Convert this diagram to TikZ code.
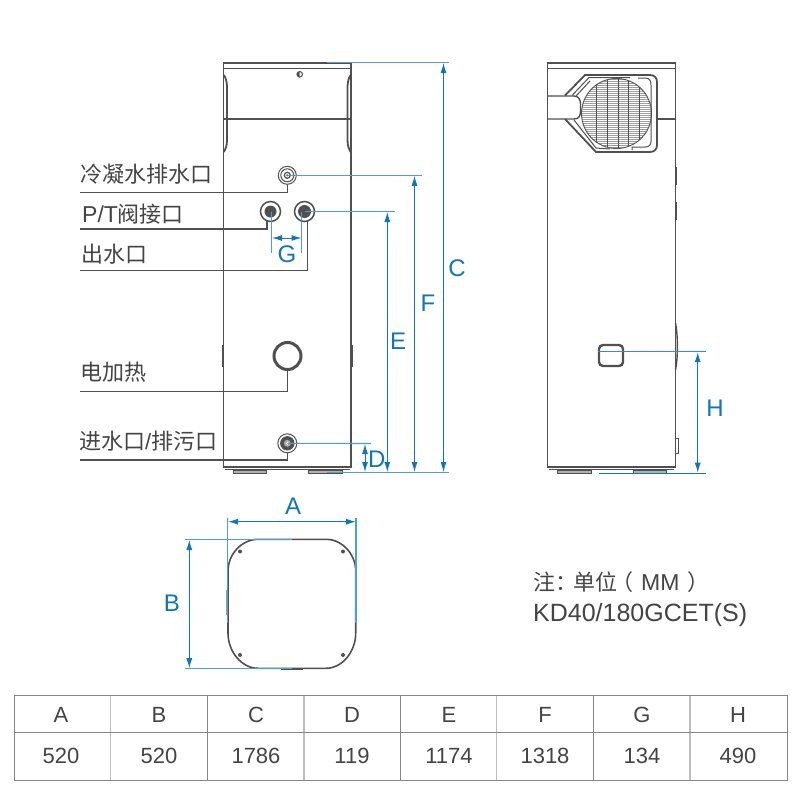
\documentclass[tikz,border=0pt]{standalone}
\usepackage{fontspec}
\setmainfont{Liberation Sans}
\newfontfamily\cjk{Noto Sans CJK SC}
\usetikzlibrary{arrows.meta}
\definecolor{bl}{HTML}{0F75BC}
\definecolor{lb}{HTML}{4C9FD8}
\definecolor{dk}{HTML}{505050}
\definecolor{txt}{HTML}{444444}
\definecolor{tb}{HTML}{858585}
\definecolor{tl}{HTML}{BDBDBD}
\tikzset{
 body/.style={draw=dk,line width=1.4pt},
 thinb/.style={draw=dk,line width=1pt},
 lead/.style={draw=dk,line width=1.2pt},
 ext/.style={draw=lb,line width=1.1pt},
 dim/.style={draw=bl,line width=1pt,{Latex[length=10pt,width=6pt]}-{Latex[length=10pt,width=6pt]}},
 lab/.style={text=txt,font=\cjk\fontsize{22}{22}\selectfont,anchor=west,inner sep=0pt},
 dl/.style={text=bl,font=\fontsize{24}{24}\selectfont,inner sep=0pt},
 cell/.style={text=txt,font=\fontsize{22}{22}\selectfont,inner sep=0pt},
 grid/.style={draw=tb,line width=.9pt},
 lgrid/.style={draw=tl,line width=1.4pt},
 foot/.style={draw=dk,fill=gray!60,line width=.4pt}
}
\begin{document}
\begin{tikzpicture}[x=1pt,y=-1pt]
\useasboundingbox (0,0) rectangle (800,800);
\fill[white] (0,0) rectangle (800,800);
% front view
\draw[body] (223.5,63) rectangle (351,467);
\draw[body] (223.5,68.3) -- (351,68.3);
\draw[body] (224,119) -- (351,119);
\draw[body,line width=1.8pt] (224,75) .. controls (226.5,79) and (227,84) .. (227,88) -- (227,140) .. controls (227,146) and (225.5,149) .. (224,152);
\draw[body,line width=1.8pt] (350.5,75) .. controls (348,79) and (347.5,84) .. (347.5,88) -- (347.5,140) .. controls (347.5,146) and (349,149) .. (350.5,152);
\draw[thinb] (299.7,74.3) circle (2.8pt);
\fill[dk] (299.7,71.8) arc (90:270:2.5pt) -- cycle;
\draw[thinb] (222,345) -- (222,367);
\draw[thinb] (352.5,345) -- (352.5,367);
\draw[thinb] (225,469.3) -- (350,469.3);
\draw[foot] (233,470.5) rectangle (266,473.3);
\draw[foot] (308,470.5) rectangle (342,473.3);
% ports
\node[circle,draw=dk,line width=1pt,minimum size=18pt,inner sep=0pt] (cond) at (287.3,175.3) {};
\draw[thinb] (cond) circle (6.5pt);
\draw[dk,line width=1.2pt] (cond) circle (3pt);
\fill[dk] (cond) circle (1.2pt);
\node[circle,draw=dk,line width=1.5pt,minimum size=20pt,inner sep=0pt] (pt) at (270.5,211.5) {};
\fill[dk] (pt) circle (6pt);
\node[circle,draw=dk,line width=1.5pt,minimum size=20pt,inner sep=0pt] (out) at (304.5,211.5) {};
\fill[dk] (out) circle (6.5pt);
\node[circle,draw=dk,line width=3pt,minimum size=27pt,inner sep=0pt] (heat) at (287.5,356) {};
\node[circle,draw=dk,line width=1pt,minimum size=19pt,inner sep=0pt] (inlet) at (287.3,443.3) {};
\fill[dk] (inlet) circle (7.2pt);
\fill[gray!70] (inlet) circle (3.5pt);
\fill[white] (inlet) circle (1.6pt);
% labels
\node[lab] (l1) at (80,174.5) {冷凝水排水口};
\node[lab] (l2) at (82,214) {{\rmfamily\fontsize{23}{23}\selectfont P/T}阀接口};
\node[lab] (l3) at (81,254) {出水口};
\node[lab] (l4) at (80,372) {电加热};
\node[lab] (l5) at (79,441) {进水口{\rmfamily/}排污口};
\coordinate (s1) at (80,192.5);
\coordinate (s2) at (80,229);
\coordinate (s3) at (80,270.5);
\coordinate (s4) at (80,391.3);
\coordinate (s5) at (80,460);
\coordinate (ptl) at (267,221);
\coordinate (outl) at (307.5,221);
\draw[lead] (s1) -- (s1 -| cond) -- (cond.south);
\draw[lead] (s2) -- (s2 -| ptl) -- (ptl);
\draw[lead] (s3) -- (s3 -| outl) -- (outl);
\draw[lead] (s4) -- (s4 -| heat) -- (heat.south);
\draw[lead] (s5) -- (s5 -| inlet) -- (inlet.south);
% front dimensions
\coordinate (topR) at (449,62.5);
\coordinate (topL) at (326.5,62.5);
\coordinate (botL) at (326.5,472.7);
\coordinate (botR) at (449,472.7);
\draw[ext] (topL) -- (topR);
\draw[ext] (botL) -- (botR);
\draw[ext] (cond.center) -- (422,175.3);
\draw[ext] (out.center) -- (395,211.5);
\draw[ext] (inlet.center) -- (371,443.5);
\draw[dim] (443.5,63) -- (443.5,472);
\node[dl] (C) at (457,268.5) {C};
\draw[dim] (414.5,175.8) -- (414.5,472);
\node[dl] (F) at (428,303) {F};
\draw[dim] (387.3,212) -- (387.3,472);
\node[dl] (E) at (398,341) {E};
\draw[dim] (365,444) -- (365,472);
\node[dl] (D) at (376.7,459) {D};
\draw[ext] (271.7,211.5) -- (271.7,252.7);
\draw[ext] (301.7,211.5) -- (301.7,252.7);
\draw[dim] (272,238) -- (301.5,238);
\node[dl] (G) at (287,254) {G};
% side view
\draw[body] (547.5,63) rectangle (675.3,467);
\draw[body] (547.5,68.3) -- (675.3,68.3);
% fan
\begin{scope}
\clip (616.5,113.5) circle (35pt);
\foreach \y in {79,81,...,150} \draw[gray!75,line width=.7pt] (580,\y) -- (654,\y);
\foreach \x in {596,607,618,628,639} \draw[dk,line width=.7pt] (\x,78) -- (\x,150);
\end{scope}
\node[circle,draw=dk,line width=.9pt,minimum size=70pt,inner sep=0pt] (fan) at (616.5,113.5) {};
\draw[body] (547.5,96) -- (574,96) .. controls (579,96) and (580.5,100) .. (580.5,104) -- (580.5,111) .. controls (580.5,116) and (579,119) .. (574,119) -- (547.5,119);
\draw[body] (657,119) -- (675,119);
\draw[body,line width=1.8pt] (565,95.5) -- (585,75) -- (650,75) .. controls (654.5,75) and (657,78) .. (657,82) -- (657,145) .. controls (657,149) and (654.5,152) .. (650,152) -- (596,152) -- (565,119);
\draw[thinb] (572,95.5) -- (589,77.5) -- (630,77.5);
\draw[thinb] (638,78) -- (645,78) .. controls (650,78) and (651,81) .. (651,85) -- (651,141) .. controls (651,145) and (649,147) .. (645,147) -- (632,147) -- (632,150);
\draw[thinb] (576,96) -- (590,81);
\draw[thinb] (574,120) -- (596,148) -- (610,149);
\draw[thinb] (676.5,167) -- (676.5,185);
\draw[thinb] (676.5,202) -- (676.5,220);
\draw[body] (675.5,323) .. controls (678,335) and (678,358) .. (675.5,370);
\draw[thinb] (675.5,438) -- (678,438) -- (678,453) -- (675.5,453);
\draw[thinb] (549,469.3) -- (674,469.3);
\draw[foot] (557,470.5) rectangle (591,473.3);
\draw[foot] (633,470.5) rectangle (666,473.3);
\node[draw=dk,line width=2.4pt,rounded corners=4pt,minimum width=24pt,minimum height=21pt,inner sep=0pt] (hd) at (611,355.5) {};
\coordinate (hTop) at (705.7,351.7);
\coordinate (hBotL) at (599,473.2);
\coordinate (hBotR) at (706,473.2);
\draw[draw=lb!60!bl,line width=1.1pt] (598,351.7) -- (hTop);
\draw[draw=bl,line width=1.1pt] (hBotL) -- (hBotR);
\draw[dim] (697.7,352.2) -- (697.7,472.7);
\node[dl] (H) at (715,408) {H};
% top view
\draw[line width=1.6pt,draw=dk] (258,539.3) -- (326,539.3) .. controls (342,539.3) and (355.7,554) .. (355.7,571) -- (355.7,633) .. controls (355.7,652) and (342,668.3) .. (326,668.3) -- (258,668.3) .. controls (242,668.3) and (228,652) .. (228,633) -- (228,571) .. controls (228,554) and (242,539.3) .. (258,539.3) -- cycle;
\draw[gray!80,line width=1pt] (226.5,590) -- (226.5,615);
\draw[dk,line width=2.4pt] (281,669) -- (303,669);
\foreach \p in {240,343}{
 \fill[dk] (\p,551.5) circle (2pt);
 \fill[dk] (\p,655) circle (2pt);
}
\draw[ext] (227.7,517.5) -- (227.7,623);
\draw[ext] (356,517.5) -- (356,623);
\draw[dim] (228,521.7) -- (356,521.7);
\node[dl] (A) at (293,506) {A};
\draw[ext] (185,539.5) -- (292,539.5);
\draw[ext] (185,668.7) -- (292,668.7);
\draw[dim] (189.3,540) -- (189.3,668.2);
\node[dl] (B) at (172,603) {B};
% note
\node[anchor=west,inner sep=0pt,text=txt,font=\cjk\fontsize{22}{22}\selectfont] (n1) at (533,582) {注：\kern-4pt 单位\kern-6pt（\kern 8pt{\rmfamily\fontsize{23}{23}\selectfont MM}\kern 8pt）};
\node[anchor=west,inner sep=0pt,text=txt,font=\fontsize{25}{25}\selectfont] (n2) at (533,615) {KD40/180GCET(S)};
% table
\foreach \x in {110.7,304,496.7,690} \draw[lgrid] (\x,695.5) -- (\x,780);
\foreach \x in {207.3,400,593.3} \draw[grid] (\x,695.5) -- (\x,780);
\draw[grid] (14.3,695.5) rectangle (787,780);
\draw[grid] (14.3,732) -- (787,732);
\foreach \x/\a/\b in {61/A/520,159/B/520,256/C/1786,352/D/119,449/E/1174,545/F/1318,642/G/134,738/H/490}{
 \node[cell] at (\x,715) {\a};
 \node[cell] at (\x,756) {\b};
}
\end{tikzpicture}
\end{document}
